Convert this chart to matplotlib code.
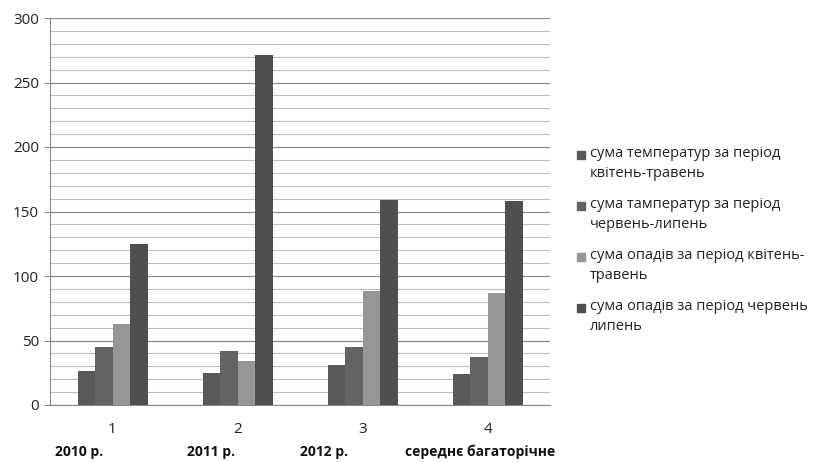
import matplotlib.pyplot as plt
from matplotlib.patches import Rectangle
import numpy as np

plt.rcParams['font.family'] = ['Open Sans', 'DejaVu Sans']

groups = ['1', '2', '3', '4']
periods = ['2010 р.', '2011 р.', '2012 р.', 'середнє багаторічне']
series_names = ['сума температур за період\nквітень-травень',
                'сума тамператур за період\nчервень-липень',
                'сума опадів за період квітень-\nтравень',
                'сума опадів за період червень\nлипень']
temp_apr_may = [26, 25, 31, 24]
temp_jun_jul = [45, 42, 45, 37]
prec_apr_may = [63, 34, 88, 87]
prec_jun_jul = [125, 271, 159, 158]
colors = ['#58595b', '#636365', '#959698', '#4e4f51']

W, H = 814, 462
fig = plt.figure(figsize=(W / 100, H / 100), dpi=100)
ax = fig.add_axes([50 / W, 1 - 405 / H, 500 / W, 387 / H])

x = np.arange(len(groups))
w = 0.14
data = [temp_apr_may, temp_jun_jul, prec_apr_may, prec_jun_jul]
for i, vals in enumerate(data):
    ax.bar(x + (i - 1.5) * w, vals, w, color=colors[i], zorder=3)

ax.set_xlim(-0.5, 3.5)
ax.set_ylim(0, 300)
ax.set_yticks(range(0, 301, 50))
ax.set_yticks(range(0, 301, 10), minor=True)
ax.grid(axis='y', which='major', color='#8a8a8a', lw=0.9, zorder=0)
ax.grid(axis='y', which='minor', color='#bdbdbd', lw=0.8, zorder=0)
ax.tick_params(axis='y', which='minor', length=0)
ax.tick_params(axis='y', which='major', length=4, color='#8a8a8a',
               labelsize=11, pad=4, labelcolor='#222222')
ax.set_xticks(x)
ax.set_xticklabels(groups)
ax.tick_params(axis='x', length=0, labelsize=11, pad=12, labelcolor='#222222')
for s in ['top', 'right']:
    ax.spines[s].set_visible(False)
ax.spines['left'].set_color('#8a8a8a')
ax.spines['bottom'].set_color('#8a8a8a')

# group captions under the axis
xs = [55, 187, 300, 405]
for px, lab in zip(xs, periods):
    fig.text(px / W, 1 - 452 / H, lab, fontsize=10, fontweight='bold',
             va='center', ha='left', color='#111111')

# legend drawn by hand so the square sits on the first line
for i, name in enumerate(series_names):
    yc = 155 + i * 51
    fig.patches.append(Rectangle((577 / W, 1 - (yc + 4) / H), 8 / W, 8 / H,
                                 transform=fig.transFigure, color=colors[i]))
    fig.text(590 / W, 1 - (yc - 9) / H, name, fontsize=10.5, va='top',
             ha='left', color='#222222', linespacing=1.45)

fig.savefig('out.png', dpi=100)
